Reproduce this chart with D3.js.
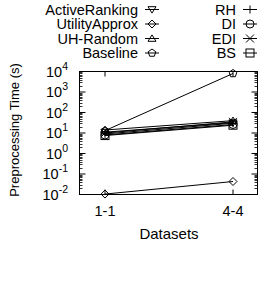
<!DOCTYPE html>
<html><head><meta charset="utf-8">
<script src="https://cdn.jsdelivr.net/npm/d3@7"></script>
<style>body{margin:0;background:#fff;} svg{display:block;font-family:"Liberation Sans",Arial,sans-serif;}</style>
</head><body>
<script>
const categories = ["1-1", "4-4"];
const seriesNames = ["ActiveRanking","UtilityApprox","UH-Random","Baseline","RH","DI","EDI","BS"];
const activeRanking = [11, 32];
const utilityApprox = [0.0105, 0.043];
const uhRandom = [14, 40];
const baseline = [13, 8000];
const rh = [9, 30];
const di = [8, 26];
const edi = [10, 35];
const bs = [7.5, 24];
const yTickExps = [-2,-1,0,1,2,3,4];
const xLabel = "Datasets";
const yLabel = "Preprocessing Time (s)";

const series = [activeRanking, utilityApprox, uhRandom, baseline, rh, di, edi, bs];
const markers = ["tridown","diamond","triup","pentagon","plus","circle","cross","square"];

const W=259,H=283;
const m={l:79.5,t:71.5,r:1.5,b:88.5};
const svg=d3.select("body").append("svg").attr("width",W).attr("height",H);
const xs=d3.scalePoint().domain(categories).range([105, 233]);
const y=d3.scaleLog().domain([0.01,10000]).range([H-m.b, m.t]);

const g=svg.append("g");
g.append("rect").attr("x",m.l).attr("y",m.t).attr("width",W-m.r-m.l).attr("height",H-m.b-m.t)
 .attr("fill","none").attr("stroke","#000").attr("stroke-width",1);

const minors=[];
for(let e=-2;e<4;e++){for(let k=2;k<=9;k++)minors.push(k*Math.pow(10,e));}
minors.forEach(v=>{
  [[m.l,m.l+3],[W-m.r,W-m.r-3]].forEach(([a,b])=>{
    g.append("line").attr("x1",a).attr("x2",b).attr("y1",Math.round(y(v))+0.5).attr("y2",Math.round(y(v))+0.5).attr("stroke","#000").attr("stroke-width",0.8);
  });
});
yTickExps.forEach(e=>{
  const v=Math.pow(10,e), yy=y(v);
  [[m.l,m.l+6],[W-m.r,W-m.r-6]].forEach(([a,b])=>{
    g.append("line").attr("x1",a).attr("x2",b).attr("y1",yy).attr("y2",yy).attr("stroke","#000");
  });
  const t=g.append("text").attr("x",68).attr("y",yy+5).attr("text-anchor","end").attr("font-size",14.5);
  t.append("tspan").text("10");
  t.append("tspan").attr("dy",-7).attr("font-size",10.5).text(e);
});
categories.forEach(c=>{
  const xx=xs(c);
  g.append("line").attr("x1",xx).attr("x2",xx).attr("y1",H-m.b).attr("y2",H-m.b-5).attr("stroke","#000");
  g.append("line").attr("x1",xx).attr("x2",xx).attr("y1",m.t).attr("y2",m.t+5).attr("stroke","#000");
  g.append("text").attr("x",xx).attr("y",216).attr("text-anchor","middle").attr("font-size",14.5).text(c);
});
svg.append("text").attr("x",(xs(categories[0])+xs(categories[1]))/2).attr("y",239).attr("text-anchor","middle").attr("font-size",15).text(xLabel);
svg.append("text").attr("transform",`translate(18.5,130) rotate(-90)`).attr("text-anchor","middle").attr("font-size",13).text(yLabel);

function drawMarker(sel,type,cx,cy){
  const s=4;
  const st={fill:"none",stroke:"#000","stroke-width":1};
  let el;
  switch(type){
    case "tridown": el=sel.append("path").attr("d",`M${cx-s},${cy-s*0.7}L${cx+s},${cy-s*0.7}L${cx},${cy+s*0.9}Z`);break;
    case "triup": el=sel.append("path").attr("d",`M${cx-s},${cy+s*0.7}L${cx+s},${cy+s*0.7}L${cx},${cy-s*0.9}Z`);break;
    case "diamond": el=sel.append("path").attr("d",`M${cx-s},${cy}L${cx},${cy-s}L${cx+s},${cy}L${cx},${cy+s}Z`);break;
    case "pentagon": {
      const pts=d3.range(5).map(i=>{const a=-Math.PI/2+i*2*Math.PI/5;return [cx+s*Math.cos(a),cy+s*Math.sin(a)];});
      el=sel.append("path").attr("d","M"+pts.join("L")+"Z");break;}
    case "plus": sel.append("path").attr("d",`M${cx-s},${cy}L${cx+s},${cy}M${cx},${cy-s}L${cx},${cy+s}`).attr("stroke","#000");return;
    case "cross": sel.append("path").attr("d",`M${cx-s},${cy-s}L${cx+s},${cy+s}M${cx-s},${cy+s}L${cx+s},${cy-s}`).attr("stroke","#000");return;
    case "circle": el=sel.append("circle").attr("cx",cx).attr("cy",cy).attr("r",s);break;
    case "square": el=sel.append("rect").attr("x",cx-s).attr("y",cy-s).attr("width",2*s).attr("height",2*s);break;
  }
  Object.entries(st).forEach(([k,v])=>el.attr(k,v));
}

const line=d3.line().x((d,i)=>xs(categories[i])).y(d=>y(d));
series.forEach(s=>{
  g.append("path").datum(s).attr("d",line).attr("fill","none").attr("stroke","#000").attr("stroke-width",1);
});
series.forEach((s,i)=>{
  s.forEach((v,j)=>drawMarker(g,markers[i],xs(categories[j]),y(v)));
});

const lg=svg.append("g");
seriesNames.forEach((n,i)=>{
  const col=Math.floor(i/4), row=i%4;
  const tx= col===0?138:236, ly=9.5+row*14.5;
  lg.append("text").attr("x",tx).attr("y",ly+5).attr("text-anchor","end").attr("font-size",14.5).text(n);
  const lx=tx+14;
  lg.append("line").attr("x1",lx-7).attr("x2",lx+7).attr("y1",ly).attr("y2",ly).attr("stroke","#000");
  drawMarker(lg,markers[i],lx,ly);
});
</script>
</body></html>
